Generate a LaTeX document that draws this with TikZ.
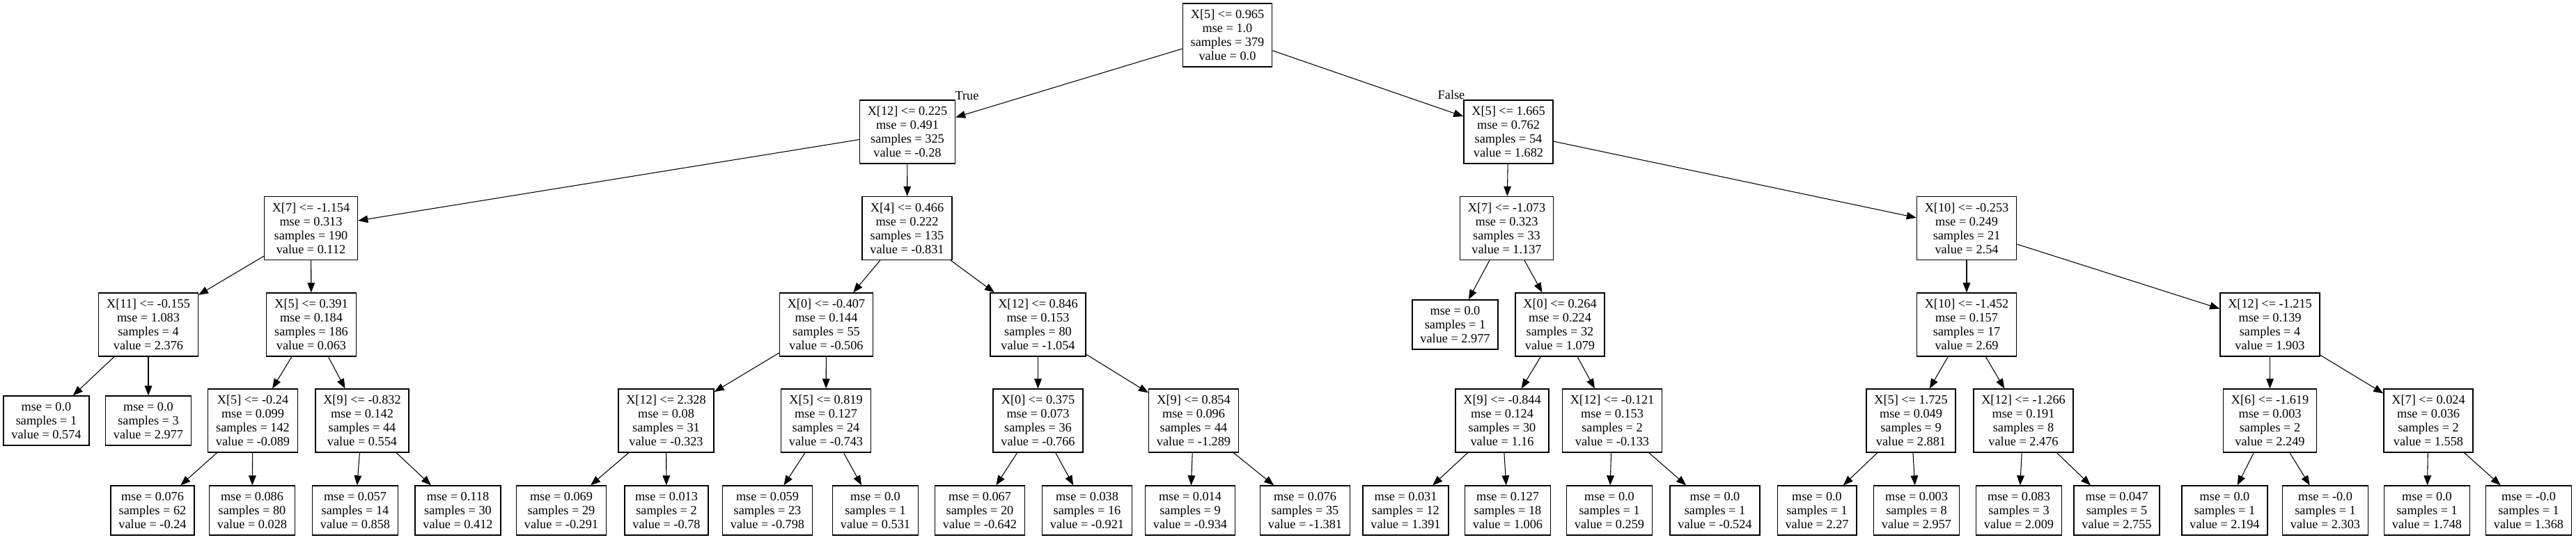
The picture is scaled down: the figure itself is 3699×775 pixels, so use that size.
\documentclass[tikz,border=0pt]{standalone}
\usepackage{fontspec}
\setmainfont{Liberation Serif}
\usetikzlibrary{arrows.meta}

\begin{document}
\begin{tikzpicture}[
    x=0.75pt, y=-0.75pt,
    split/.style={
        draw, line width=1pt, align=center,
        inner xsep=8.5pt, inner ysep=3pt,
        minimum height=68.25pt,
        font=\fontsize{13.7pt}{15pt}\selectfont,
    },
    leaf/.style={split, minimum height=53.25pt},
    edge/.style={
        line width=0.8pt,
        -{Triangle[length=10.5pt, width=8pt]},
    },
    lbl/.style={font=\fontsize{13.7pt}{15pt}\selectfont, inner sep=0pt},
]

\useasboundingbox[fill=white] (0,0) rectangle (3699,775);

% =============================================
% LEVEL 0 – root split
% =============================================
\node[split] (root) at (1762.5,50.5) {X[5] <= 0.965\\mse = 1.0\\samples = 379\\value = 0.0};

% =============================================
% LEVEL 1
% =============================================
\node[split] (L) at (1303,189.5) {X[12] <= 0.225\\mse = 0.491\\samples = 325\\value = -0.28};
\node[split] (R) at (2166,189.5) {X[5] <= 1.665\\mse = 0.762\\samples = 54\\value = 1.682};

% True / False labels next to the heads
\node[lbl] (truelbl) at (1388.5,137.5) {True};
\node[lbl] (falselbl) at (2084,136) {False};

% =============================================
% LEVEL 2
% =============================================
\node[split] (LL) at (446.5,328) {X[7] <= -1.154\\mse = 0.313\\samples = 190\\value = 0.112};
\node[split] (LR) at (1302.5,328) {X[4] <= 0.466\\mse = 0.222\\samples = 135\\value = -0.831};
\node[split] (RL) at (2163.5,328) {X[7] <= -1.073\\mse = 0.323\\samples = 33\\value = 1.137};
\node[split] (RR) at (2824,328) {X[10] <= -0.253\\mse = 0.249\\samples = 21\\value = 2.54};

% =============================================
% LEVEL 3
% =============================================
\node[split] (LLL) at (213,466.5) {X[11] <= -0.155\\mse = 1.083\\samples = 4\\value = 2.376};
\node[split] (LLR) at (447,466.5) {X[5] <= 0.391\\mse = 0.184\\samples = 186\\value = 0.063};
\node[split] (LRL) at (1186.5,466.5) {X[0] <= -0.407\\mse = 0.144\\samples = 55\\value = -0.506};
\node[split] (LRR) at (1490.5,466.5) {X[12] <= 0.846\\mse = 0.153\\samples = 80\\value = -1.054};
\node[leaf]  (RLL) at (2089.5,466.5) {mse = 0.0\\samples = 1\\value = 2.977};
\node[split] (RLR) at (2240,466.5) {X[0] <= 0.264\\mse = 0.224\\samples = 32\\value = 1.079};
\node[split] (RRL) at (2824,466.5) {X[10] <= -1.452\\mse = 0.157\\samples = 17\\value = 2.69};
\node[split] (RRR) at (3259.5,466.5) {X[12] <= -1.215\\mse = 0.139\\samples = 4\\value = 1.903};

% =============================================
% LEVEL 4
% =============================================
\node[leaf]  (LLLL) at (66.5,604.5) {mse = 0.0\\samples = 1\\value = 0.574};
\node[leaf]  (LLLR) at (213,604.5) {mse = 0.0\\samples = 3\\value = 2.977};
\node[split] (LLRL) at (363,604.5) {X[5] <= -0.24\\mse = 0.099\\samples = 142\\value = -0.089};
\node[split] (LLRR) at (520,604.5) {X[9] <= -0.832\\mse = 0.142\\samples = 44\\value = 0.554};
\node[split] (LRLL) at (956.5,604.5) {X[12] <= 2.328\\mse = 0.08\\samples = 31\\value = -0.323};
\node[split] (LRLR) at (1186,604.5) {X[5] <= 0.819\\mse = 0.127\\samples = 24\\value = -0.743};
\node[split] (LRRL) at (1490.5,604.5) {X[0] <= 0.375\\mse = 0.073\\samples = 36\\value = -0.766};
\node[split] (LRRR) at (1714,604.5) {X[9] <= 0.854\\mse = 0.096\\samples = 44\\value = -1.289};
\node[split] (RLRL) at (2157,604.5) {X[9] <= -0.844\\mse = 0.124\\samples = 30\\value = 1.16};
\node[split] (RLRR) at (2315,604.5) {X[12] <= -0.121\\mse = 0.153\\samples = 2\\value = -0.133};
\node[split] (RRLL) at (2744,604.5) {X[5] <= 1.725\\mse = 0.049\\samples = 9\\value = 2.881};
\node[split] (RRLR) at (2905.5,604.5) {X[12] <= -1.266\\mse = 0.191\\samples = 8\\value = 2.476};
\node[split] (RRRL) at (3259.5,604.5) {X[6] <= -1.619\\mse = 0.003\\samples = 2\\value = 2.249};
\node[split] (RRRR) at (3487,604.5) {X[7] <= 0.024\\mse = 0.036\\samples = 2\\value = 1.558};

% =============================================
% LEVEL 5 – leaves
% =============================================
\node[leaf] (LLRLL) at (219,733.5) {mse = 0.076\\samples = 62\\value = -0.24};
\node[leaf] (LLRLR) at (362,733.5) {mse = 0.086\\samples = 80\\value = 0.028};
\node[leaf] (LLRRL) at (510,733.5) {mse = 0.057\\samples = 14\\value = 0.858};
\node[leaf] (LLRRR) at (657.5,733.5) {mse = 0.118\\samples = 30\\value = 0.412};
\node[leaf] (LRLLL) at (806,733.5) {mse = 0.069\\samples = 29\\value = -0.291};
\node[leaf] (LRLLR) at (957,733.5) {mse = 0.013\\samples = 2\\value = -0.78};
\node[leaf] (LRLRL) at (1102,733.5) {mse = 0.059\\samples = 23\\value = -0.798};
\node[leaf] (LRLRR) at (1257,733.5) {mse = 0.0\\samples = 1\\value = 0.531};
\node[leaf] (LRRLL) at (1407,733.5) {mse = 0.067\\samples = 20\\value = -0.642};
\node[leaf] (LRRLR) at (1561,733.5) {mse = 0.038\\samples = 16\\value = -0.921};
\node[leaf] (LRRRL) at (1709,733.5) {mse = 0.014\\samples = 9\\value = -0.934};
\node[leaf] (LRRRR) at (1874,733.5) {mse = 0.076\\samples = 35\\value = -1.381};
\node[leaf] (RLRLL) at (2018.5,733.5) {mse = 0.031\\samples = 12\\value = 1.391};
\node[leaf] (RLRLR) at (2165,733.5) {mse = 0.127\\samples = 18\\value = 1.006};
\node[leaf] (RLRRL) at (2311,733.5) {mse = 0.0\\samples = 1\\value = 0.259};
\node[leaf] (RLRRR) at (2462.5,733.5) {mse = 0.0\\samples = 1\\value = -0.524};
\node[leaf] (RRLLL) at (2609,733.5) {mse = 0.0\\samples = 1\\value = 2.27};
\node[leaf] (RRLLR) at (2752,733.5) {mse = 0.003\\samples = 8\\value = 2.957};
\node[leaf] (RRLRL) at (2899,733.5) {mse = 0.083\\samples = 3\\value = 2.009};
\node[leaf] (RRLRR) at (3039.5,733.5) {mse = 0.047\\samples = 5\\value = 2.755};
\node[leaf] (RRRLL) at (3194.5,733.5) {mse = 0.0\\samples = 1\\value = 2.194};
\node[leaf] (RRRLR) at (3339,733.5) {mse = -0.0\\samples = 1\\value = 2.303};
\node[leaf] (RRRRL) at (3485,733.5) {mse = 0.0\\samples = 1\\value = 1.748};
\node[leaf] (RRRRR) at (3631,733.5) {mse = -0.0\\samples = 1\\value = 1.368};

% =============================================
% EDGES – parent -> child
% =============================================
\foreach \a/\b in {root/L, root/R,
    L/LL, L/LR, R/RL, R/RR,
    LL/LLL, LL/LLR, LR/LRL, LR/LRR, RL/RLL, RL/RLR, RR/RRL, RR/RRR,
    LLL/LLLL, LLL/LLLR, LLR/LLRL, LLR/LLRR, LRL/LRLL, LRL/LRLR,
    LRR/LRRL, LRR/LRRR, RLR/RLRL, RLR/RLRR, RRL/RRLL, RRL/RRLR,
    RRR/RRRL, RRR/RRRR,
    LLRL/LLRLL, LLRL/LLRLR, LLRR/LLRRL, LLRR/LLRRR,
    LRLL/LRLLL, LRLL/LRLLR, LRLR/LRLRL, LRLR/LRLRR,
    LRRL/LRRLL, LRRL/LRRLR, LRRR/LRRRL, LRRR/LRRRR,
    RLRL/RLRLL, RLRL/RLRLR, RLRR/RLRRL, RLRR/RLRRR,
    RRLL/RRLLL, RRLL/RRLLR, RRLR/RRLRL, RRLR/RRLRR,
    RRRL/RRRLL, RRRL/RRRLR, RRRR/RRRRL, RRRR/RRRRR}
  \draw[edge] (\a) -- (\b);

\end{tikzpicture}
\end{document}
